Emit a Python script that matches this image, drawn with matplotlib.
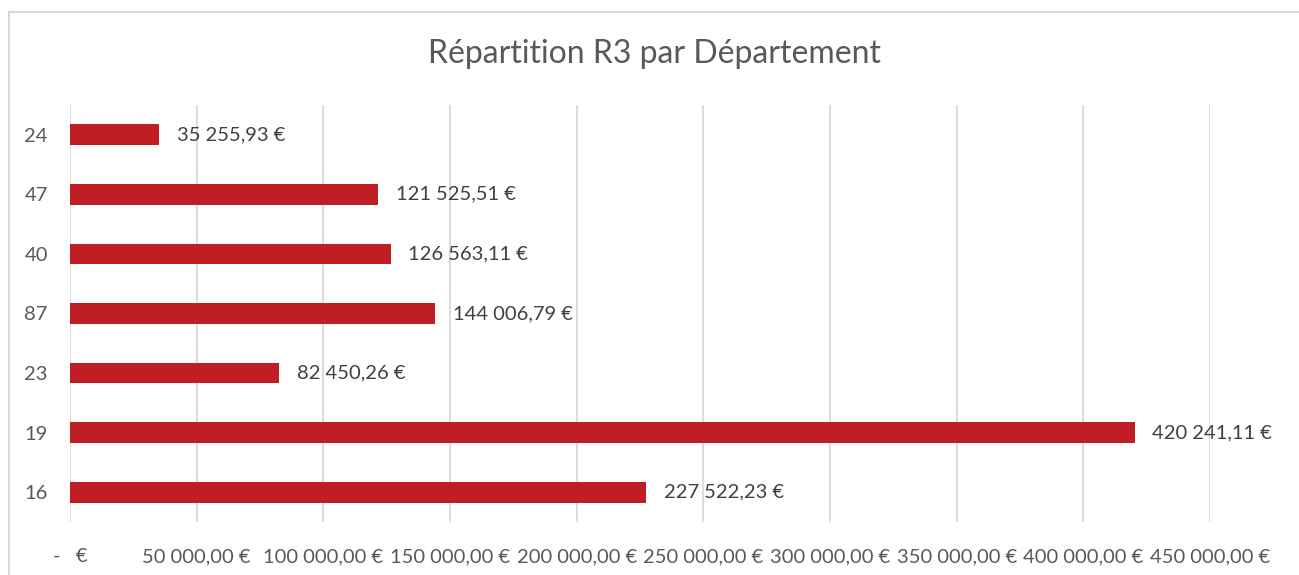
import matplotlib
matplotlib.use("Agg")
import matplotlib.pyplot as plt
from matplotlib.lines import Line2D
from matplotlib.ticker import FixedLocator, FuncFormatter

departements = ["16", "19", "23", "87", "40", "47", "24"]
montants = [227522.23, 420241.11, 82450.26, 144006.79, 126563.11, 121525.51, 35255.93]
x_ticks = [0, 50000, 100000, 150000, 200000, 250000, 300000, 350000, 400000, 450000]

RED = "#BE1E24"
TXT = "#595959"
GRID = "#D9D9D9"

plt.rcParams["font.family"] = ["Lato", "DejaVu Sans"]


def euro(v, pos=None):
    if v == 0:
        return "-   €"
    s = f"{v:,.2f}".replace(",", "\u202f").replace(".", ",")
    return s + "\u202f€"


fig = plt.figure(figsize=(12.99, 5.75), dpi=100)
ax = fig.add_axes([70 / 1299, 1 - 522 / 575, (1210 - 70) / 1299, (522 - 105) / 575])

ypos = range(len(departements))
ax.barh(ypos, montants, height=0.35, color=RED, zorder=3)
for y, v in zip(ypos, montants):
    ax.text(v + 7000, y, euro(v), va="center", ha="left", fontsize=14.5, color="#404040")

ax.set_xlim(0, 450000)
ax.set_ylim(-0.5, len(departements) - 0.5)
ax.set_yticks(list(ypos))
ax.set_yticklabels(departements, fontsize=14.5, color=TXT)
ax.xaxis.set_major_locator(FixedLocator(x_ticks))
ax.xaxis.set_major_formatter(FuncFormatter(euro))
ax.tick_params(axis="x", length=0, pad=19, labelsize=14.5, labelcolor=TXT)
ax.tick_params(axis="y", length=0, pad=16)
ax.grid(axis="x", color=GRID, linewidth=1.3, zorder=0)
for s in ax.spines.values():
    s.set_visible(False)

fig.text(655 / 1299, 1 - 54 / 575, "Répartition R3 par Département",
         ha="center", va="center", fontsize=23, color=TXT)

# chart border (cropped on right and bottom)
fig.add_artist(Line2D([9 / 1299, 9 / 1299], [0, 1 - 12 / 575], color=GRID, lw=1.5))
fig.add_artist(Line2D([9 / 1299, 1], [1 - 12 / 575, 1 - 12 / 575], color=GRID, lw=1.5))

fig.savefig("out.png", dpi=100, facecolor="white")
